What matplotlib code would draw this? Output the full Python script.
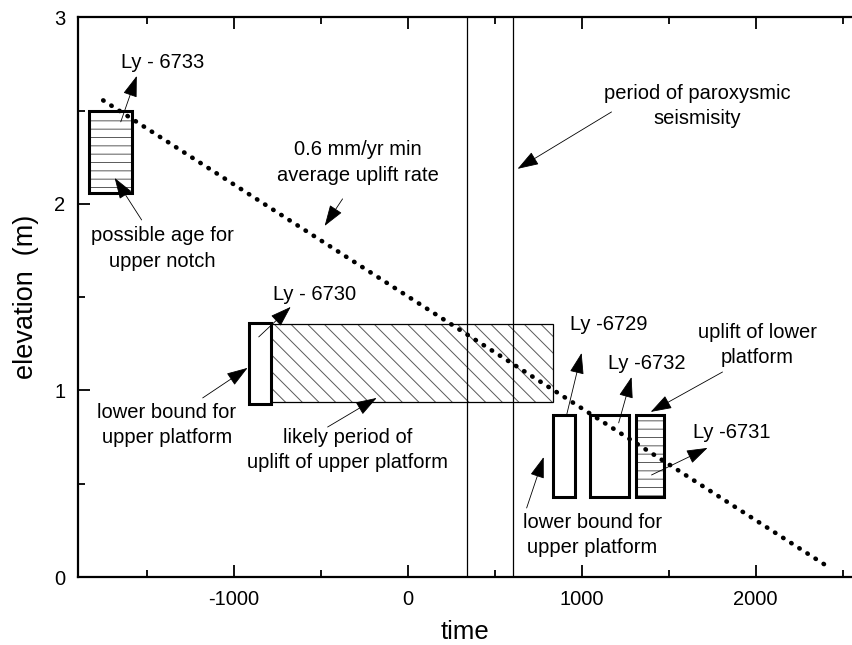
import matplotlib
matplotlib.use('Agg')
import matplotlib.pyplot as plt
import matplotlib.patches as patches

plt.rcParams['font.family'] = ['Liberation Sans', 'DejaVu Sans']
plt.rcParams['hatch.linewidth'] = 0.7
plt.rcParams['axes.unicode_minus'] = False

# sample boxes: age range (x) and elevation range (y)
box_names = ['Ly-6733', 'Ly-6730', 'Ly-6729', 'Ly-6732', 'Ly-6731']
box_x0 = [-1833, -912, 835, 1050, 1314]
box_x1 = [-1582, -783, 960, 1272, 1473]
box_y0 = [2.06, 0.93, 0.43, 0.43, 0.43]
box_y1 = [2.50, 1.36, 0.87, 0.87, 0.87]
box_hatch = ['--', None, None, None, '--']

# likely uplift period of the upper platform
period_x = [-783, 835]
period_y = [0.94, 1.357]

# seismic crisis bounds
seism_x = [340, 608]

# minimum average uplift line (0.6 mm/yr)
rate_x = [-1750, 2410]
rate_y = [2.555, 0.059]

# annotations: text, text position, arrow tail, arrow head
notes = [
    ('Ly - 6733', (-1408, 2.76), (-1649, 2.44), (-1557, 2.686)),
    ('possible age for\nupper notch', (-1408, 1.76), (-1529, 1.914), (-1684, 2.139)),
    ('0.6 mm/yr min\naverage uplift rate', (-287, 2.22), (-374, 2.027), (-477, 1.882)),
    ('period of paroxysmic\nseismisity', (1667, 2.525), (1172, 2.493), (632, 2.188)),
    ('Ly - 6730', (-534, 1.512), (-856, 1.287), (-672, 1.448)),
    ('lower bound for\nupper platform', (-1385, 0.815), (-1178, 0.96), (-920, 1.121)),
    ('likely period of\nuplift of upper platform', (-345, 0.681), (-460, 0.804), (-178, 0.96)),
    ('Ly -6729', (1155, 1.351), (914, 0.869), (1000, 1.201)),
    ('Ly -6732', (1374, 1.147), (1213, 0.826), (1287, 1.072)),
    ('uplift of lower\nplatform', (2011, 1.244), (1810, 1.099), (1397, 0.885)),
    ('Ly -6731', (1862, 0.772), (1402, 0.547), (1724, 0.692)),
    ('lower bound for\nupper platform', (1063, 0.225), (684, 0.37), (782, 0.643)),
]

fig = plt.figure(figsize=(8.53, 6.45), dpi=100)
ax = fig.add_axes([0.0914, 0.1054, 0.9086, 0.8677])

# hatched period box (thin outline)
ax.add_patch(patches.Rectangle((period_x[0], period_y[0]), period_x[1] - period_x[0],
                               period_y[1] - period_y[0], fill=False, hatch='\\\\',
                               edgecolor='0.35', linewidth=0))
ax.add_patch(patches.Rectangle((period_x[0], period_y[0]), period_x[1] - period_x[0],
                               period_y[1] - period_y[0], fill=False,
                               edgecolor='black', linewidth=0.9))

# sample boxes (heavy outline)
for x0, x1, y0, y1, h in zip(box_x0, box_x1, box_y0, box_y1, box_hatch):
    if h:
        ax.add_patch(patches.Rectangle((x0, y0), x1 - x0, y1 - y0, fill=False, hatch=h,
                                       edgecolor='0.35', linewidth=0))
    ax.add_patch(patches.Rectangle((x0, y0), x1 - x0, y1 - y0, facecolor='white' if not h else 'none',
                                   edgecolor='black', linewidth=2.2, zorder=3))

for xv in seism_x:
    ax.axvline(xv, color='black', linewidth=0.9)

ax.plot(rate_x, rate_y, color='black', linewidth=3.3,
        linestyle=(0, (0.1, 2.0)), dash_capstyle='round', zorder=4)

for txt, tpos, tail, head in notes:
    ax.text(tpos[0], tpos[1], txt, ha='center', va='center', fontsize=14.5,
            linespacing=1.45, zorder=6)
    ax.annotate('', xy=head, xytext=tail,
                arrowprops=dict(arrowstyle='-|>,head_length=0.95,head_width=0.32',
                                color='black', lw=0.6, mutation_scale=14,
                                shrinkA=0, shrinkB=0), zorder=6)

ax.set_xlim(-1895, 2560)
ax.set_ylim(0, 3)
ax.set_xticks([-1000, 0, 1000, 2000])
ax.set_xticks([-1500, -500, 500, 1500, 2500], minor=True)
ax.set_yticks([0, 1, 2, 3])
ax.set_yticks([0.5, 1.5, 2.5], minor=True)
ax.tick_params(which='both', direction='in', top=True, right=False, width=1.3,
               labelsize=14.5, pad=9)
ax.tick_params(which='major', length=8.5)
ax.tick_params(which='minor', length=5)
ax.spines['right'].set_visible(False)
for s in ['left', 'bottom', 'top']:
    ax.spines[s].set_linewidth(1.6)

ax.set_xlabel('time', fontsize=18.5, labelpad=8)
ax.set_ylabel('elevation  (m)', fontsize=19.5, labelpad=11)

fig.savefig('out.png', dpi=100)
